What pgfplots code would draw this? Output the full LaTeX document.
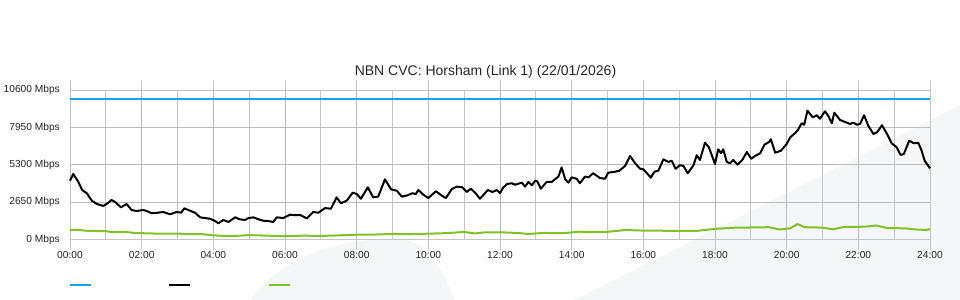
\documentclass[border=0pt]{standalone}
\usepackage{fontspec}
\setmainfont{Liberation Sans}
\usepackage{pgfplots}
\pgfplotsset{compat=1.18}
\definecolor{capcol}{HTML}{1AA2E6}
\definecolor{dncol}{HTML}{000000}
\definecolor{upcol}{HTML}{80C12A}
\definecolor{gridc}{HTML}{C4C4C4}
\definecolor{gridm}{HTML}{BBBBBB}
\definecolor{wmcol}{HTML}{F5F6F8}
\begin{document}
\begin{tikzpicture}
\useasboundingbox (0,0) rectangle (960bp,300bp);
\fill[wmcol] (960bp,195bp) -- (670bp,48bp) -- (574bp,0bp) -- (960bp,0bp) -- cycle;
\fill[wmcol] (250bp,0bp) .. controls (280bp,40bp) and (330bp,60bp) .. (390bp,61bp) .. controls (420bp,61bp) and (432bp,53bp) .. (455bp,0bp) -- cycle;
\node[anchor=base, font=\fontsize{14bp}{16bp}\selectfont, text=black!85, inner sep=0pt] at (485.5bp,224.5bp) {NBN CVC: Horsham (Link 1) (22/01/2026)};
\begin{axis}[
  scale only axis,
  width=860bp, height=149.3bp,
  anchor=south west, at={(70bp,60.4bp)},
  xmin=0, xmax=24, ymin=0, ymax=10600,
  scaled y ticks=false,
  axis line style={draw=gridc, line width=1bp},
  xtick={0,2,...,24},
  xticklabels={00:00,02:00,04:00,06:00,08:00,10:00,12:00,14:00,16:00,18:00,20:00,22:00,24:00},
  minor xtick={1,3,...,23},
  ytick={0,2650,5300,7950,10600},
  yticklabels={0 Mbps,2650 Mbps,5300 Mbps,7950 Mbps,10600 Mbps},
  tick align=outside,
  major tick length=10bp,
  minor tick length=0bp,
  xtick style={draw=gridc, line width=1bp},
  ytick style={draw=none},
  tick label style={font=\fontsize{10.2bp}{12bp}\selectfont, text=black!85},
  xticklabel style={inner sep=2bp},
  yticklabel style={inner sep=0pt, xshift=0bp},
  grid=both,
  major grid style={draw=gridm, line width=1bp},
  minor grid style={draw=gridc, line width=1bp},
  legend style={draw=none, fill=none, at={(0,0)}, anchor=west, yshift=-45.4bp, xshift=-1bp,
    legend columns=3, inner sep=0pt, outer sep=0pt,
    nodes={inner sep=0pt, outer sep=0pt},
    /tikz/every odd column/.append style={column sep=0pt},
    /tikz/every even column/.append style={column sep=75.5bp}},
  legend image code/.code={\draw[#1] (0bp,0bp) -- (21bp,0bp);},
  clip=false,
]
\addplot[capcol, line width=2bp] coordinates {(0,10000) (24,10000)};
\addlegendentry{}
\addplot[dncol, line width=2bp, line join=round] coordinates {
(0.00,4180) (0.09,4660) (0.23,4110) (0.34,3520) (0.47,3290) (0.61,2760) (0.75,2530) (0.93,2390)
(1.05,2580) (1.16,2810) (1.26,2670) (1.42,2290) (1.58,2530) (1.72,2100) (1.86,2030) (2.05,2100)
(2.14,2030) (2.28,1870) (2.45,1910) (2.60,1960) (2.79,1800) (2.98,1960) (3.10,1910) (3.19,2220)
(3.35,2050) (3.49,1910) (3.63,1580) (3.77,1530) (3.91,1480) (4.05,1320) (4.14,1160) (4.28,1390)
(4.42,1250) (4.61,1580) (4.74,1440) (4.88,1390) (4.98,1530) (5.12,1580) (5.26,1440) (5.39,1340)
(5.53,1320) (5.67,1250) (5.77,1580) (5.95,1530) (6.14,1770) (6.28,1730) (6.42,1750) (6.61,1510)
(6.79,1960) (6.93,1910) (7.12,2240) (7.28,2190) (7.44,3000) (7.56,2580) (7.72,2760) (7.89,3330)
(8.00,3240) (8.12,2900) (8.31,3710) (8.46,3000) (8.60,3050) (8.79,4280) (8.96,3570) (9.12,3470)
(9.26,3050) (9.43,3150) (9.55,3290) (9.65,3240) (9.72,3520) (9.86,3190) (10.00,2950) (10.21,3430)
(10.39,3100) (10.49,2950) (10.65,3570) (10.79,3760) (10.95,3710) (11.07,3380) (11.19,3610) (11.32,3290)
(11.44,2900) (11.66,3520) (11.79,3380) (11.91,3520) (12.00,3290) (12.09,3700) (12.20,3950) (12.33,4000)
(12.42,3900) (12.61,4040) (12.70,3760) (12.79,4090) (12.89,3860) (12.98,4180) (13.04,4140) (13.14,3610)
(13.30,4090) (13.44,4090) (13.63,4470) (13.72,5130) (13.82,4280) (13.91,4040) (14.00,4420) (14.14,4320)
(14.23,4000) (14.37,4470) (14.47,4420) (14.60,4710) (14.79,4370) (14.93,4320) (15.02,4750) (15.21,4820)
(15.33,4890) (15.49,5230) (15.63,5940) (15.77,5420) (15.91,5030) (16.00,4990) (16.21,4400) (16.31,4820)
(16.42,4890) (16.56,5700) (16.70,5510) (16.79,5600) (16.90,5030) (17.02,5280) (17.12,5230) (17.24,4710)
(17.40,5280) (17.49,5990) (17.58,5650) (17.72,6880) (17.83,6550) (18.00,5370) (18.09,6410) (18.17,6130)
(18.23,6410) (18.33,5510) (18.42,5420) (18.51,5650) (18.63,5320) (18.76,5650) (18.89,6220) (19.01,5740)
(19.12,5940) (19.26,6130) (19.38,6740) (19.51,6930) (19.56,7120) (19.68,6170) (19.84,6310) (20.00,6790)
(20.10,7260) (20.23,7550) (20.30,7730) (20.42,8260) (20.49,8160) (20.58,9150) (20.73,8680) (20.84,8830)
(20.93,8580) (21.07,9110) (21.16,8780) (21.26,8260) (21.33,9010) (21.49,8490) (21.63,8350) (21.77,8210)
(21.86,8300) (21.96,8160) (22.05,8210) (22.16,8830) (22.28,8070) (22.42,7500) (22.53,7640) (22.66,8120)
(22.79,7550) (22.93,6840) (23.07,6550) (23.18,6010) (23.27,6080) (23.42,7020) (23.55,6840) (23.67,6880)
(23.76,6360) (23.85,5600) (24.00,5060)
};
\addlegendentry{}
\addplot[upcol, line width=2bp, line join=round] coordinates {
(0.00,660) (0.15,700) (0.5,620) (1.0,600) (1.2,520) (1.5,560) (1.8,470) (2.5,420) (3.0,430)
(3.3,380) (3.7,380) (4.0,300) (4.5,240) (5.0,320) (5.5,280) (6.0,240) (6.5,280) (7.0,260)
(7.5,300) (8.0,350) (8.5,360) (9.0,400) (9.5,390) (10.0,420) (10.5,460) (11.0,540) (11.3,440)
(11.6,520) (12.0,520) (12.5,470) (12.8,400) (13.2,470) (13.8,460) (14.2,560) (14.5,540) (15.0,550)
(15.5,680) (16.0,640) (16.5,630) (17.0,610) (17.5,620) (18.0,760) (18.5,840) (19.0,860) (19.5,880)
(19.8,720) (20.1,800) (20.3,1100) (20.5,880) (21.0,850) (21.3,730) (21.6,900) (22.0,900) (22.3,940)
(22.5,1000) (22.8,820) (23.3,800) (23.6,720) (23.9,680) (24.0,740)
};
\addlegendentry{}
\end{axis}
\end{tikzpicture}
\end{document}
